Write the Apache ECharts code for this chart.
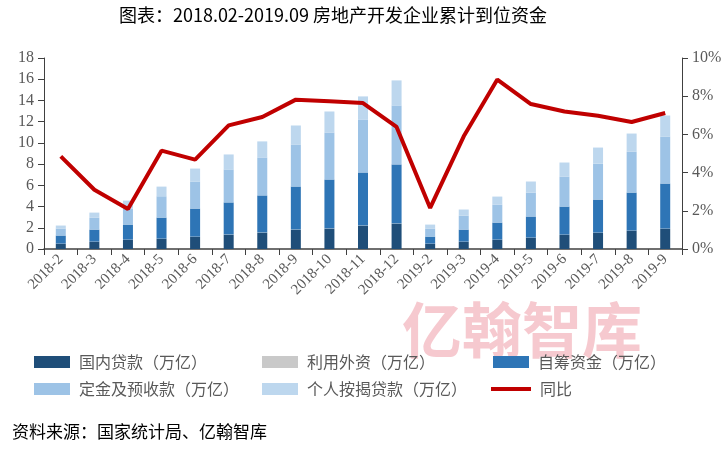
<!DOCTYPE html>
<html>
<head>
<meta charset="utf-8">
<script src="https://cdn.jsdelivr.net/npm/echarts@6/dist/echarts.min.js"></script>
<style>
html,body{margin:0;padding:0;background:#fff;}
#main{width:728px;height:454px;}
</style>
</head>
<body>
<div id="main"></div>
<script>
// 月份
var months = ['2018-2','2018-3','2018-4','2018-5','2018-6','2018-7','2018-8','2018-9','2018-10','2018-11','2018-12',
  '2019-2','2019-3','2019-4','2019-5','2019-6','2019-7','2019-8','2019-9'];
// 各项资金(万亿)
var domesticLoan = [0.50,0.69,0.88,0.97,1.16,1.35,1.54,1.82,1.92,2.20,2.39,0.50,0.69,0.88,1.07,1.35,1.54,1.73,1.92];
var foreignCap   = [0.01,0.01,0.01,0.01,0.01,0.02,0.02,0.02,0.02,0.02,0.02,0.01,0.01,0.01,0.01,0.01,0.01,0.01,0.01];
var selfRaised   = [0.76,1.13,1.41,1.98,2.64,3.02,3.49,4.05,4.61,4.99,5.56,0.66,1.13,1.60,1.98,2.64,3.11,3.58,4.24];
var deposits     = [0.66,1.13,1.51,2.01,2.55,3.11,3.58,3.96,4.43,5.00,5.56,0.76,1.32,1.70,2.26,2.83,3.39,3.86,4.43];
var mortgage     = [0.28,0.47,0.75,0.91,1.22,1.41,1.51,1.79,1.98,2.17,2.36,0.37,0.57,0.75,1.04,1.32,1.51,1.70,1.98];
// 同比(%)
var yoy = [4.85,3.10,2.09,5.15,4.68,6.47,6.91,7.82,7.73,7.64,6.39,2.15,5.90,8.87,7.59,7.20,6.98,6.65,7.12];

var names = ['国内贷款（万亿）','利用外资（万亿）','自筹资金（万亿）','定金及预收款（万亿）','个人按揭贷款（万亿）','同比'];
var colors = ['#1F4E79','#C9C9C9','#2E75B6','#9DC3E6','#BDD7EE','#C00000'];

var serif = '"Liberation Serif","DejaVu Serif",serif';
var cjk = '"Noto Sans CJK SC",sans-serif';

var myChart = echarts.init(document.getElementById('main'));

function barSeries(i,data){
  return {
    name:names[i], type:'bar', stack:'fund', data:data, barWidth:10,
    itemStyle:{color:colors[i]}
  };
}

// 图例逐项定位
var legendPos = [[29,349],[257,349],[488,349],[29,376],[257,376],[486,376]];
var legends = [];
for(var i=0;i<names.length;i++){
  legends.push({
    data:[names[i]], left:legendPos[i][0], top:legendPos[i][1],
    itemWidth: i==5 ? 40 : 36, itemHeight:12, itemGap:0,
    textStyle:{fontFamily:cjk, fontSize:16, color:'#595959', padding:[0,0,0,4]},
    icon: i==5 ? 'path://M0,0 L40,0 L40,4 L0,4 Z' : 'rect'
  });
}

var option = {
  animation:false,
  title:{
    text:'图表：2018.02-2019.09 房地产开发企业累计到位资金',
    left:328, textAlign:'center', top:1,
    textStyle:{fontFamily:cjk, fontSize:18, fontWeight:'normal', color:'#000'}
  },
  legend:legends,
  graphic:[
    {type:'text', left:402, top:300, z:-1, silent:true,
      style:{text:'亿翰智库', fontSize:60, fontWeight:'bold', fontFamily:cjk, fill:'rgba(232,120,135,0.4)'}},
    {type:'text', left:12, top:423,
      style:{text:'资料来源：国家统计局、亿翰智库', fontSize:17, fontFamily:cjk, fill:'#000'}}
  ],
  grid:{left:44, right:46, top:58, bottom:205},
  xAxis:{
    type:'category', data:months,
    axisLine:{lineStyle:{color:'#404040', width:1.5}},
    axisTick:{show:true, alignWithLabel:false, length:6, lineStyle:{color:'#404040'}},
    axisLabel:{rotate:45, interval:0, fontFamily:serif, fontSize:15, color:'#595959', margin:8}
  },
  yAxis:[
    {type:'value', min:0, max:18, interval:2,
      axisLine:{show:true, lineStyle:{color:'#404040'}},
      axisTick:{show:true, length:6, lineStyle:{color:'#404040'}},
      splitLine:{show:false},
      axisLabel:{fontFamily:serif, fontSize:16, color:'#595959', margin:10}},
    {type:'value', min:0, max:10, interval:2,
      axisLine:{show:true, lineStyle:{color:'#404040'}},
      axisTick:{show:true, length:6, lineStyle:{color:'#404040'}},
      splitLine:{show:false},
      axisLabel:{fontFamily:serif, fontSize:16, color:'#595959', margin:10, formatter:'{value}%'}}
  ],
  series:[
    barSeries(0,domesticLoan),
    barSeries(1,foreignCap),
    barSeries(2,selfRaised),
    barSeries(3,deposits),
    barSeries(4,mortgage),
    {name:names[5], type:'line', yAxisIndex:1, data:yoy, symbol:'none',
      lineStyle:{color:colors[5], width:4}, itemStyle:{color:colors[5]}}
  ]
};
myChart.setOption(option);
</script>
</body>
</html>
